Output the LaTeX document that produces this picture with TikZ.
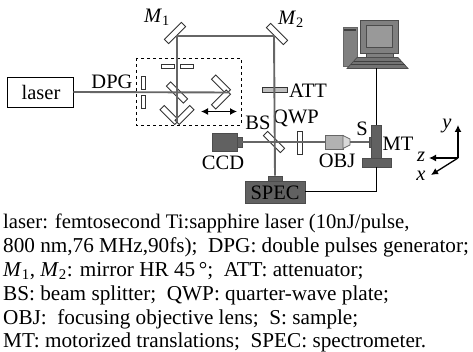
\documentclass[tikz,border=0pt]{standalone}
\usepackage{fontspec}
\setmainfont{Liberation Serif}
\usetikzlibrary{arrows.meta}
\tikzset{
  optic/.style = {draw=black!80, fill=white, line width=0.9pt, inner sep=0pt, rectangle},
  beam/.style = {draw=black!60, line width=1.9pt},
  wire/.style = {draw=black, line width=1pt},
  dark/.style = {draw=black!70, fill=black!62, line width=0.6pt, inner sep=0pt, rectangle},
  lab/.style = {inner sep=0pt, font=\fontsize{20.5}{22}\selectfont},
  note/.style = {inner sep=0pt, anchor=base west, font=\fontsize{21.2}{22}\selectfont},
  axis/.style = {draw=black, line width=1.3pt, -{Latex[length=7pt,width=7pt]}}
}
\newcommand{\mirror}[4]{\node[optic, minimum width=#3pt, minimum height=6pt, rotate=#4] (#1) at (#2) {};}
\begin{document}
\begin{tikzpicture}[x=1pt,y=-1pt]
\useasboundingbox (0,0) rectangle (473,352);

% laser and delay box
\node[optic, draw=black, minimum width=66pt, minimum height=30pt] (laser) at (40,92) {};
\node[lab] (laserlab) at (41,92) {laser};
\node[lab] (dpg) at (112,82) {DPG};
\draw[black, line width=0.9pt, dashed] (136,58) rectangle (241,125);
\node[optic, minimum width=4.5pt, minimum height=13pt] (ph1) at (143.5,83) {};
\node[optic, minimum width=4.5pt, minimum height=13pt] (ph2) at (143.5,102) {};
\node[optic, minimum width=13pt, minimum height=4.5pt] (ph3) at (168,66.5) {};
\node[optic, minimum width=13pt, minimum height=4.5pt] (ph4) at (187,66.5) {};
\mirror{bsa}{177,92.5}{24}{-45}
\mirror{retroa}{169.5,115}{21}{-45}
\mirror{retrob}{184.5,115}{21}{45}
\mirror{retroc}{221,84.5}{21}{-45}
\mirror{retrod}{221,99.5}{21}{45}
\draw[black, line width=1.3pt, {Latex[length=7pt,width=7pt]}-{Latex[length=7pt,width=7pt]}] (201,111.5) -- (237,111.5);

% mirrors
\mirror{mone}{175,33}{24}{45}
\mirror{mtwo}{277,34}{24}{-45}
\node[lab] (monelab) at (157,17) {\textit{M}\textsubscript{1}};
\node[lab] (mtwolab) at (291,19) {\textit{M}\textsubscript{2}};

% sample arm
\node[optic, fill=black!25, minimum width=25pt, minimum height=5pt] (att) at (274.5,89.5) {};
\node[lab] (attlab) at (308,91) {ATT};
\mirror{bsb}{274,142}{24}{-45}
\node[optic, minimum width=5pt, minimum height=23pt] (qwp) at (299.5,142.5) {};
\node[lab] (bslab) at (258,123) {BS};
\node[lab] (qwplab) at (296,118) {QWP};
\node[dark, minimum width=25pt, minimum height=18pt] (ccd) at (225,142) {};
\node[dark, minimum width=5pt, minimum height=10pt] (ccdnose) at (239.5,142) {};
\node[lab] (ccdlab) at (223,163) {CCD};
\node[optic, draw=black!60, fill=black!30, minimum width=18pt, minimum height=14pt] (obj) at (334,142) {};
\draw[draw=black!60, fill=black!15, line width=0.8pt] (343,135.5) -- (350,139) -- (350,145) -- (343,148.5) -- cycle;
\node[lab] (objlab) at (337,161) {OBJ};
\node[dark, minimum width=3pt, minimum height=10pt] (sample) at (370.5,142) {};
\node[lab] (slab) at (362,129) {S};
\node[dark, minimum width=10pt, minimum height=34pt] (mt) at (376.5,142) {};
\node[dark, minimum width=29pt, minimum height=9pt] (mtbase) at (376.5,162.5) {};
\node[lab] (mtlab) at (398,144) {MT};
\node[dark, minimum width=60pt, minimum height=22pt] (spec) at (275,192) {};
\node[dark, minimum width=14pt, minimum height=5pt] (specnose) at (275,178.5) {};
\node[lab] (speclab) at (275,193) {SPEC};

% beam path
\coordinate (bend) at (177,36);
\coordinate (bendb) at (274,36);
\coordinate (apexa) at (177,122);
\coordinate (apexb) at (229,92.5);
\draw[beam] (laser.east) -- (apexb);
\draw[beam] (apexa) -- (bend) -- (bendb) -- (specnose.north);
\draw[beam] (ccdnose.east) -- (obj.west);
\draw[beam] (350,142) -- (sample.west);

% computer
\draw[draw=black!60, fill=black!50, line width=0.7pt] (343,27) rectangle (357,66);
\draw[black!75, line width=1.2pt] (344,30) -- (356,30);
\node[dark, fill=black!50, minimum width=38pt, minimum height=33pt] (monitor) at (379,36.5) {};
\node[dark, fill=black!40, minimum width=26pt, minimum height=22pt] (screen) at (379.5,36) {};
\node[dark, fill=black!50, minimum width=27pt, minimum height=4pt] (stand) at (379.5,55) {};
\draw[draw=black!70, fill=black!55, line width=0.7pt] (357,57.5) -- (398,57.5) -- (408,68.5) -- (347,68.5) -- cycle;
\draw[black!75, line width=0.6pt] (354,61) -- (401,61) (351,64.5) -- (405,64.5);
\coordinate (keyb) at (376.5,68.5);
\coordinate (cornr) at (376.5,192);
\draw[wire] (keyb) -- (mt.north);
\draw[wire] (mtbase.south) -- (cornr) -- (spec.east |- cornr);

% axes
\coordinate (orig) at (458,158);
\coordinate (ytip) at (458,125);
\coordinate (ztip) at (429,158);
\coordinate (xtip) at (431,175);
\draw[axis] (orig) -- (ytip);
\draw[axis] (orig) -- (ztip);
\draw[axis] (orig) -- (xtip);
\node[lab] (ylab) at (447,126) {\textit{y}};
\node[lab] (zlab) at (421,157) {\textit{z}};
\node[lab] (xlab) at (421,176) {\textit{x}};

% caption
\node[note, font=\fontsize{20.7}{22}\selectfont] (capa) at (3,229) {laser: femtosecond Ti:sapphire laser (10nJ/pulse,};
\node[note] (capb) at (3,253) {800 nm,76 MHz,90fs);\ \ DPG: double pulses generator;};
\node[note] (capc) at (3,276.5) {\textit{M}\textsubscript{1}, \textit{M}\textsubscript{2}: mirror HR 45\,°;\ \ ATT: attenuator;};
\node[note] (capd) at (3,300) {BS: beam splitter;\ \ QWP: quarter-wave plate;};
\node[note] (cape) at (3,324) {OBJ:\ \ focusing objective lens;\ \ S: sample;};
\node[note] (capf) at (3,347) {MT: motorized translations;\ \ SPEC: spectrometer.};
\end{tikzpicture}
\end{document}
